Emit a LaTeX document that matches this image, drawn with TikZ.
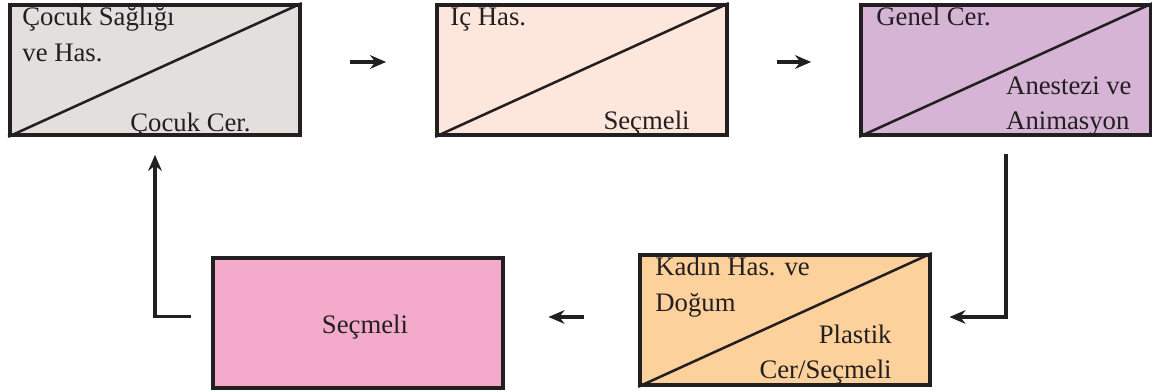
\documentclass[tikz,border=0pt]{standalone}
\usepackage{fontspec}
\setmainfont{Liberation Serif}
\usetikzlibrary{calc,arrows.meta}
\definecolor{ink}{HTML}{231F20}
\definecolor{childfill}{HTML}{E3DFDC}
\definecolor{internfill}{HTML}{FDE6DC}
\definecolor{surgfill}{HTML}{D5B4D6}
\definecolor{electfill}{HTML}{F4ABCB}
\definecolor{obstfill}{HTML}{FDD19B}
\tikzset{
    box/.style={draw=ink, line width=2.6pt, minimum width=7.25cm, minimum height=3.25cm,
        inner sep=0pt},
    lbl/.style={inner sep=0pt, font=\fontsize{19}{25}\selectfont, text=ink},
    split/.style={draw=ink, line width=1.8pt},
    arr/.style={draw=ink, line width=2.4pt, -{Stealth[length=4mm, width=3.4mm]}}
}

\begin{document}
\begin{tikzpicture}[x=0.025cm, y=0.025cm]
\useasboundingbox (0,0) rectangle (1152,392);

\node[box, fill=childfill] (b1) at (155,322) {};
\node[box, fill=internfill] (b2) at (582,322) {};
\node[box, fill=surgfill] (b3) at (1006,322) {};
\node[box, fill=electfill] (b4) at (358,69) {};
\node[box, fill=obstfill] (b5) at (785,72) {};

\draw[split] (b1.south west) -- (b1.north east);
\draw[split] (b2.south west) -- (b2.north east);
\draw[split] (b3.south west) -- (b3.north east);
\draw[split] (b5.south west) -- (b5.north east);

\node[lbl, anchor=base west, align=left] (t1a) at ($(b1.north west)+(14,-58)$) {Çocuk Sağlığı\\ve Has.};
\node[lbl, anchor=base east] (t1b) at ($(b1.south east)+(-51,5)$) {Çocuk Cer.};

\node[lbl, anchor=base west] (t2a) at ($(b2.north west)+(15,-22)$) {İç Has.};
\node[lbl, anchor=base east] (t2b) at ($(b2.south east)+(-39,7)$) {Seçmeli};

\node[lbl, anchor=base west] (t3a) at ($(b3.north west)+(17,-22)$) {Genel Cer.};
\node[lbl, anchor=base east, align=left] (t3b) at ($(b3.south east)+(-21,7)$) {Anestezi ve\\Animasyon};

\node[lbl] (t4) at ($(b4.center)+(7,-4)$) {Seçmeli};

\node[lbl, anchor=base west, align=left] (t5a) at ($(b5.north west)+(17,-58)$) {Kadın Has. ve\\Doğum};
\node[lbl, anchor=base east, align=right] (t5b) at ($(b5.south east)+(-40,8)$) {Plastik\\Cer/Seçmeli};

\draw[arr, shorten <=1.2cm, shorten >=1.225cm] ([yshift=0.2cm]b1.east) -- ([yshift=0.2cm]b2.west);
\draw[arr, shorten <=1.2cm, shorten >=1.2cm] ([yshift=0.2cm]b2.east) -- ([yshift=0.2cm]b3.west);
\draw[arr, shorten <=0.425cm, shorten >=0.44cm] (b3.south) |- ([yshift=0.075cm]b5.east);
\draw[arr, shorten <=1.36cm, shorten >=1.09cm] ([yshift=0.075cm]b5.west) -- ([yshift=0.075cm]b5.west -| b4.east);
\draw[arr, shorten <=0.5cm, shorten >=0.45cm] ([yshift=0.16cm]b4.west) -| (b1.south);
\end{tikzpicture}
\end{document}
